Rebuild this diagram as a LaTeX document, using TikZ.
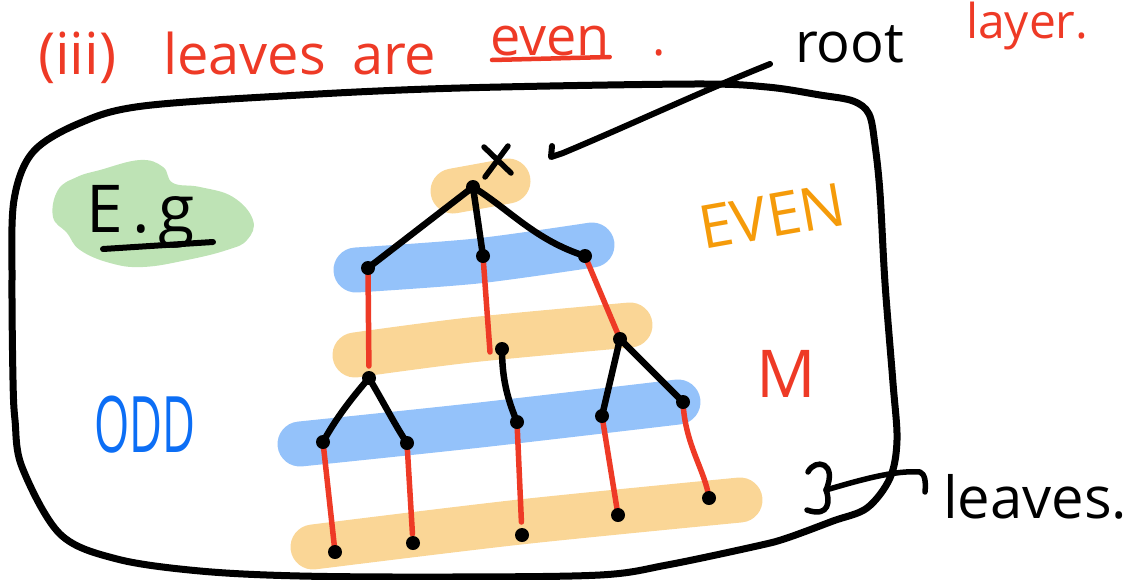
\documentclass[tikz,border=0pt]{standalone}
\usepackage{fontspec}
\setmainfont{Open Sans}
\usetikzlibrary{calc}
\definecolor{bandblue}{RGB}{148,194,250}
\definecolor{bandorange}{RGB}{250,214,150}
\definecolor{bandgreen}{RGB}{190,227,181}
\definecolor{penred}{RGB}{238,58,38}
\definecolor{penblue}{RGB}{12,110,245}
\definecolor{penorange}{RGB}{245,155,10}
\begin{document}
\begin{tikzpicture}[x=1pt,y=-1pt,
  band/.style={line width=45pt,line cap=round,line join=round},
  edgeb/.style={line width=6.5pt,line cap=round,black},
  edger/.style={line width=5.5pt,line cap=round,penred},
  pen/.style={line width=6pt,line cap=round,line join=round,black},
  lbl/.style={inner sep=0pt,outer sep=0pt}]
\useasboundingbox (0,0) rectangle (1136,579);
% outer box
\draw[pen,line width=7pt] plot[smooth cycle,tension=0.55] coordinates {
 (143,106) (300,95) (460,88) (693,84) (767,87) (820,95) (853,101) (869,114) (875,145)
 (880,193) (885,283) (893,383) (897,440) (890,478) (867,508) (833,521) (787,538)
 (757,546) (667,565) (600,575) (450,577) (300,576) (200,571) (117,559) (60,534)
 (22,467) (15,420) (13,380) (12,280) (14,200) (33,152) (80,123)};
% green blob
\fill[bandgreen] plot[smooth cycle,tension=0.7] coordinates {
 (100,170) (140,160) (163,167) (173,183) (200,187) (233,197) (253,220) (247,240)
 (227,250) (187,260) (143,267) (110,263) (80,250) (67,233) (53,217) (58,190) (77,177)};
% bands
\draw[band,bandorange] (453,191) -- (508,181);
\draw[band,bandblue] plot[smooth] coordinates {(356,270) (477,261) (592,245)};
\draw[band,bandorange] plot[smooth] coordinates {(355,355) (470,340) (630,325)};
\draw[band,bandblue] plot[smooth] coordinates {(300,444) (480,425) (678,402)};
\draw[band,bandorange] plot[smooth] coordinates {(313,547) (520,522) (740,500)};
% tree vertices
\coordinate (r) at (473,187);
\coordinate (a1) at (368,268);
\coordinate (a2) at (483,256);
\coordinate (a3) at (585,256);
\coordinate (b1) at (369,378);
\coordinate (b2) at (502,349);
\coordinate (b3) at (620,339);
\coordinate (c1) at (323,442);
\coordinate (c2) at (407,443);
\coordinate (c3) at (517,422);
\coordinate (c4) at (602,416);
\coordinate (c5) at (683,402);
\coordinate (d1) at (335,552);
\coordinate (d2) at (413,543);
\coordinate (d3) at (522,535);
\coordinate (d4) at (618,515);
\coordinate (d5) at (709,498);
% black edges
\draw[edgeb] (r) -- (a1);
\draw[edgeb] (r) -- (a2);
\draw[edgeb] (r) .. controls (510,210) and (535,240) .. (a3);
\draw[edgeb] (b1) .. controls (350,400) and (335,420) .. (c1);
\draw[edgeb] (b1) .. controls (385,405) and (395,425) .. (c2);
\draw[edgeb] (b2) .. controls (502,380) and (508,400) .. (c3);
\draw[edgeb] (b3) -- (c4);
\draw[edgeb] (b3) -- (c5);
% red edges
\draw[edger,shorten >=12pt] (a1) -- (b1);
\draw[edger] (a2) -- ($(b2)+(-12,3)$);
\draw[edger,shorten >=4pt] (a3) -- (b3);
\draw[edger] (c1) -- (d1);
\draw[edger,shorten >=9pt] (c2) -- (d2);
\draw[edger,shorten >=13pt] (c3) -- (d3);
\draw[edger] (c4) -- (d4);
\draw[edger] (c5) .. controls (685,445) and (705,470) .. (d5);
% dots
\foreach \v in {r,a1,a2,a3,b1,b2,b3,c1,c2,c3,c4,c5,d1,d2,d3,d4,d5}
  \fill (\v) circle (7pt);
% X above root
\coordinate (x1) at (484,147); \coordinate (x2) at (511,173);
\coordinate (x3) at (508,146); \coordinate (x4) at (485,177);
\draw[pen,line width=5.5pt] (x1) -- (x2);
\draw[pen,line width=5.5pt] (x3) -- (x4);
% top red text
\node[lbl,anchor=base west,text=penred,font=\fontsize{58}{60}\selectfont] (t1) at (38,74) {(iii)};
\node[lbl,anchor=base west,text=penred,font=\fontsize{56}{60}\selectfont] (t2) at (163,74) {leaves};
\node[lbl,anchor=base west,text=penred,font=\fontsize{56}{60}\selectfont] (t3) at (352,74) {are};
\node[lbl,anchor=base west,text=penred,font=\fontsize{54}{58}\selectfont] (t4) at (490,55) {even};
\draw[penred,line width=4.5pt,line cap=round] ($(t4.base west)+(2,5)$) -- ($(t4.base east)+(0,2)$);
\node[lbl,anchor=base west,text=penred,font=\fontsize{50}{54}\selectfont] (t5) at (652,55) {.};
\node[lbl,anchor=base west,text=penred,font=\fontsize{48}{52}\selectfont] (layer) at (966,38) {layer.};
% root label and arrow
\node[lbl,anchor=base west,font=\fontsize{56}{60}\selectfont] (rootlbl) at (795,62) {root};
\coordinate (rt) at (770,64);
\coordinate (rh) at (563,153);
\coordinate (rk) at (551,157);
\coordinate (rk2) at (552,146);
\draw[pen] (rt) .. controls (700,92) and (630,125) .. (rh) -- (rk) -- (rk2);
% E.g
\node[lbl,anchor=base west,font=\fontsize{66}{70}\selectfont] (eg) at (86,232) {E\hspace{10pt}.\hspace{8pt}g};
\draw[pen] (103,249) -- (213,242);
% side labels
\node[lbl,text=penorange,font=\fontsize{60}{64}\selectfont,rotate=10] (even) at (772,216) {EVEN};
\node[lbl,text=penred,font=\fontsize{66}{70}\selectfont] (M) at (786,374) {M};
\node[lbl,text=penblue,font=\fontsize{78}{82}\selectfont] (odd) at (145,425) {\scalebox{0.58}[1]{ODD}};
% leaves label
\node[lbl,anchor=base west,font=\fontsize{58}{62}\selectfont] (leaves) at (943,518) {leaves.};
\coordinate (br1) at (808,472);
\coordinate (br2) at (826,490);
\coordinate (br3) at (807,510);
\draw[pen,line width=5.5pt] (br1) .. controls (815,458) and (838,462) .. (br2)
   .. controls (830,500) and (830,518) .. (br3);
\coordinate (lk1) at (920,472);
\coordinate (lk2) at (925,492);
\draw[pen,line width=5.5pt] (br2) .. controls (860,480) and (895,470) .. (lk1) .. controls (925,474) and (926,482) .. (lk2);
\end{tikzpicture}
\end{document}
